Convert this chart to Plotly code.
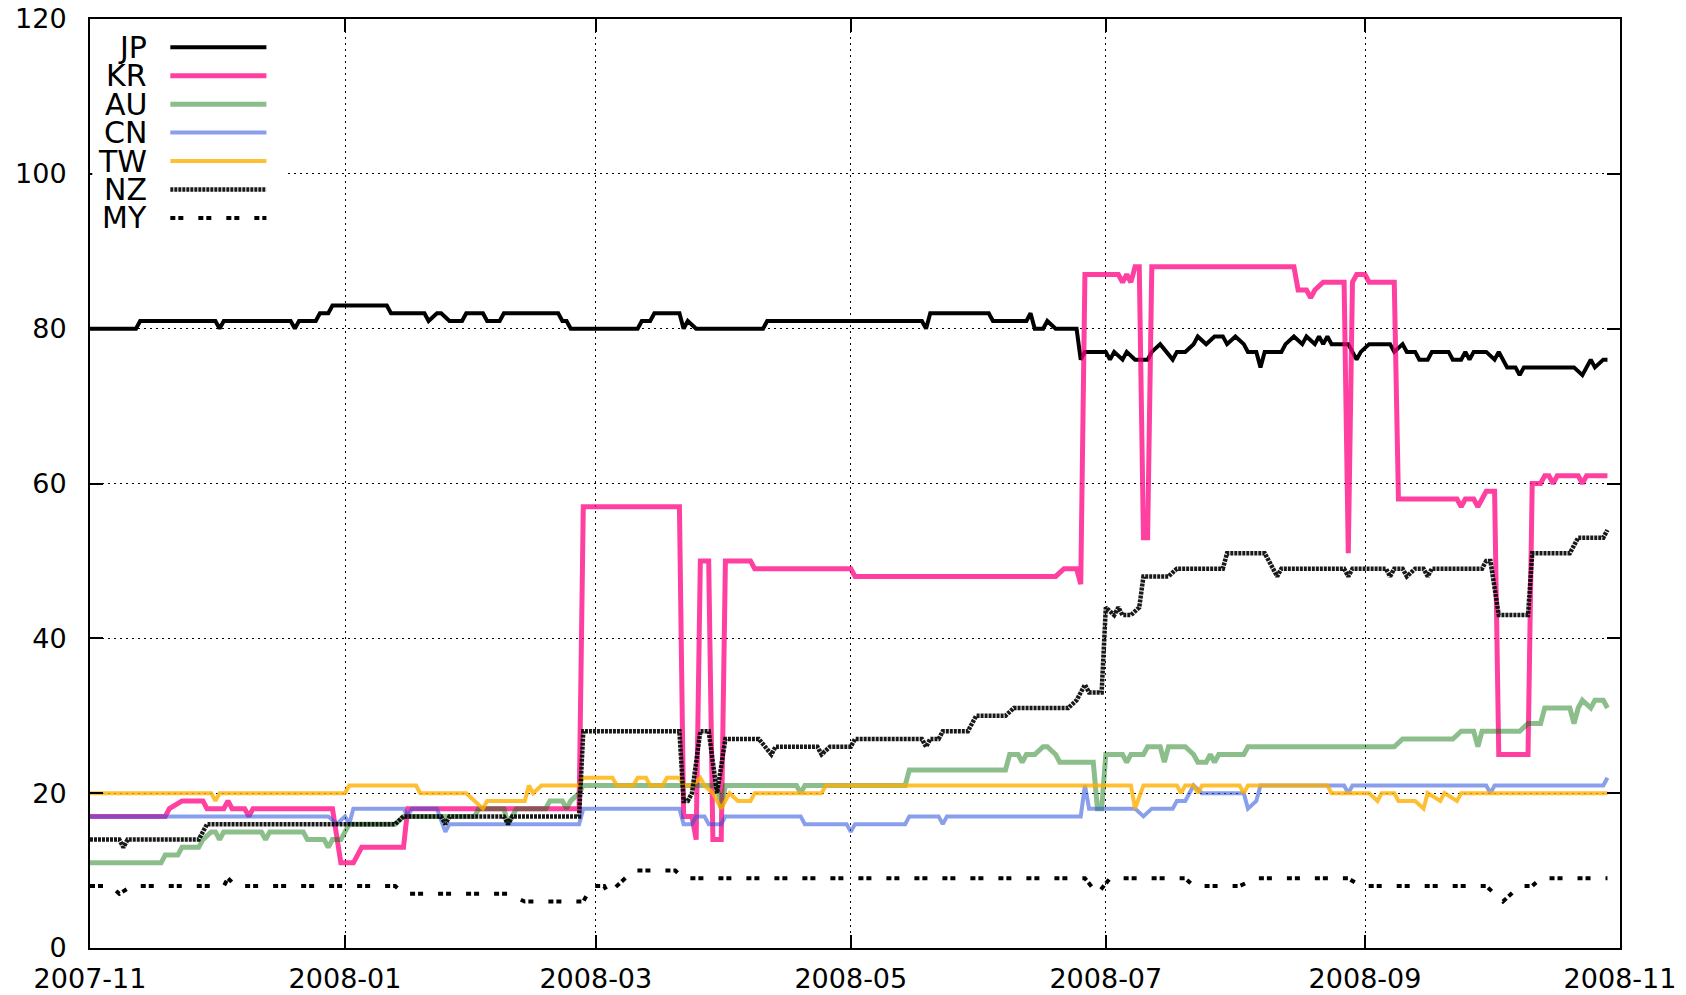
import pandas as pd
import plotly.graph_objects as go

START = "2007-11-01"
END = "2008-11-01"

# day offsets from START and values, per country
jp_days = [0, 11, 12, 30, 31, 32, 48, 49, 50, 54, 55, 57, 58, 71, 72, 80, 81, 83, 84, 86, 89, 90, 94, 95, 98, 99,
           112, 113, 114, 115, 131, 132, 134, 135, 141, 142, 143, 145, 161, 162, 199, 200, 201, 215, 216, 224, 225,
           226, 228, 229, 231, 236, 237, 238, 243, 244, 245, 247, 248, 250, 253, 254, 256, 259, 260, 262, 264, 265,
           267, 269, 271, 272, 274, 276, 277, 279, 280, 281, 285, 286, 288, 290, 291, 293, 294, 295, 296, 297, 301,
           303, 304, 306, 311, 312, 314, 315, 317, 318, 320, 321, 325, 326, 328, 329, 330, 331, 334, 336, 337, 339,
           341, 342, 343, 355, 357, 359, 360, 362, 363]
jp_vals = [80, 80, 81, 81, 80, 81, 81, 80, 81, 81, 82, 82, 83, 83, 82, 82, 81, 82, 82, 81, 81, 82, 82, 81, 81, 82,
           82, 81, 81, 80, 80, 81, 81, 82, 82, 80, 81, 80, 80, 81, 81, 80, 82, 82, 81, 81, 82,
           80, 80, 81, 80, 80, 76, 77, 77, 76, 77, 76, 77, 76, 76, 77, 78, 76, 77, 77, 78, 79,
           78, 79, 79, 78, 79, 78, 77, 77, 75, 77, 77, 78, 79, 78, 79, 78, 79, 78, 79, 78, 78,
           76, 77, 78, 78, 77, 78, 77, 77, 76, 76, 77, 77, 76, 76, 77, 76, 77, 77, 76, 77, 75,
           75, 74, 75, 75, 74, 76, 75, 76, 76]

kr_days = [0, 18, 19, 22, 27, 28, 32, 33, 34, 37, 38, 39, 58, 60, 63, 65, 75, 76, 117, 118, 141, 142, 144, 145, 146,
           148, 149, 151, 152, 158, 159, 182, 183, 231, 233, 236, 237, 238, 246, 247, 248, 249, 250, 251, 252, 253,
           254, 288, 289, 291, 292, 293, 295, 300, 301, 302, 303, 305, 306, 312, 313, 327, 328, 329, 331, 332, 334,
           336, 337, 344, 345, 347, 348, 349, 350, 351, 356, 357, 358, 363]
kr_vals = [17, 17, 18, 19, 19, 18, 18, 19, 18, 18, 17, 18, 18, 11, 11, 13, 13, 18, 18, 57, 57, 17, 17, 14, 50,
           50, 14, 14, 50, 50, 49, 49, 48, 48, 49, 49, 47, 87, 87, 86, 87, 86, 88, 88, 53, 53,
           88, 88, 85, 85, 84, 85, 86, 86, 51, 86, 87, 87, 86, 86, 58, 58, 57, 58, 58, 57, 59,
           59, 25, 25, 60, 60, 61, 61, 60, 61, 61, 60, 61, 61]

au_days = [0, 17, 18, 21, 22, 26, 27, 29, 30, 31, 32, 41, 42, 43, 51, 52, 56, 57, 58, 60, 62, 73, 75, 92, 93, 99,
           100, 102, 109, 110, 113, 114, 115, 117, 118, 150, 151, 152, 169, 170, 171, 195, 196, 219, 220, 222, 223,
           224, 226, 228, 229, 231, 232, 240, 241, 242, 243, 247, 248, 249, 252, 253, 256, 257, 258, 262, 264, 265,
           267, 268, 269, 270, 276, 277, 312, 314, 326, 328, 331, 332, 333, 342, 344, 347, 348, 354, 355, 356, 357,
           359, 360, 362, 363]
au_vals = [11, 11, 12, 12, 13, 13, 14, 15, 15, 14, 15, 15, 14, 15, 15, 14, 14, 13, 14, 14, 16, 16, 17, 17, 18, 18,
           16, 18, 18, 19, 19, 18, 19, 20, 21, 21, 18, 21, 21, 20, 21, 21, 23, 23, 25, 25, 24,
           25, 25, 26, 26, 25, 24, 24, 18, 18, 25, 25, 24, 25, 25, 26, 26, 24, 26, 26, 25, 24,
           24, 25, 24, 25, 25, 26, 26, 27, 27, 28, 28, 26, 28, 28, 29, 29, 31, 31, 29, 31, 32,
           31, 32, 32, 31]

cn_days = [0, 57, 59, 61, 62, 63, 75, 76, 77, 83, 85, 86, 117, 118, 141, 142, 144, 145, 147, 148, 151, 152, 170,
           171, 181, 182, 183, 195, 196, 203, 204, 205, 237, 238, 239, 250, 252, 254, 259, 260, 262, 264, 266, 276,
           277, 279, 280, 300, 301, 302, 334, 335, 336, 362, 363]
cn_vals = [17, 17, 16, 17, 16, 18, 18, 17, 18, 18, 15, 16, 16, 18, 18, 16, 16, 17, 17, 16, 16, 17, 17,
           16, 16, 15, 16, 16, 17, 17, 16, 17, 17, 21, 18, 18, 17, 18, 18, 19, 19, 21, 20, 20,
           18, 19, 21, 21, 20, 21, 21, 20, 21, 21, 22]

tw_days = [0, 29, 30, 31, 61, 62, 78, 79, 90, 92, 94, 95, 104, 105, 106, 108, 117, 118, 125, 126, 130, 131, 133,
           134, 137, 138, 141, 142, 144, 146, 147, 149, 151, 153, 155, 158, 159, 175, 176, 249, 250, 252, 260, 261,
           262, 264, 265, 266, 275, 276, 277, 296, 297, 306, 308, 309, 312, 313, 317, 319, 320, 323, 324, 327, 328,
           363]
tw_vals = [20, 20, 19, 20, 20, 21, 21, 20, 20, 19, 18, 19, 19, 21, 20, 21, 21, 22, 22, 21, 21, 22, 22,
           21, 21, 22, 22, 21, 21, 22, 21, 20, 18, 20, 19, 19, 20, 20, 21, 21, 18, 21, 21, 20,
           21, 21, 20, 21, 21, 20, 21, 21, 20, 20, 19, 20, 20, 19, 19, 18, 20, 19, 20, 19, 20,
           20]

nz_days = [0, 7, 8, 9, 26, 28, 73, 75, 84, 85, 86, 99, 100, 101, 117, 118, 141, 142, 143, 144, 146, 148, 150, 152,
           160, 163, 164, 174, 175, 177, 182, 183, 199, 200, 201, 203, 204, 210, 211, 212, 219, 221, 234, 236, 237,
           238, 239, 242, 243, 245, 246, 247, 249, 251, 252, 258, 260, 271, 272, 281, 284, 285, 300, 301, 302, 310,
           311, 312, 314, 315, 317, 319, 320, 321, 333, 334, 335, 337, 344, 345, 354, 355, 356, 362, 363]
nz_vals = [14, 14, 13, 14, 14, 16, 16, 17, 17, 16, 17, 17, 16, 17, 17, 28, 28, 19, 19, 20, 28, 28, 20, 27,
           27, 25, 26, 26, 25, 26, 26, 27, 27, 26, 27, 27, 28, 28, 29, 30, 30, 31, 31, 32, 33,
           34, 33, 33, 44, 43, 44, 43, 43, 44, 48, 48, 49, 49, 51, 51, 48, 49, 49, 48, 49, 49,
           48, 49, 49, 48, 49, 49, 48, 49, 49, 50, 50, 43, 43, 51, 51, 52, 53, 53, 54]

my_days = [0, 5, 7, 10, 32, 33, 35, 73, 75, 100, 104, 118, 120, 123, 124, 126, 128, 130, 140, 142, 238, 241, 244,
           262, 264, 275, 279, 301, 304, 334, 336, 338, 340, 342, 345, 347, 363]
my_vals = [8, 8, 7, 8, 8, 9, 8, 8, 7, 7, 6, 6, 8, 8, 7, 8, 9, 10, 10, 9, 9, 7, 9,
           9, 8, 8, 9, 9, 8, 8, 7, 6, 7, 8, 8, 9, 9]

names = ["JP", "KR", "AU", "CN", "TW", "NZ", "MY"]
styles = {
    "JP": dict(color="black", width=4),
    "KR": dict(color="rgba(255,0,128,0.75)", width=5),
    "AU": dict(color="rgba(0,110,0,0.45)", width=5),
    "CN": dict(color="rgba(40,80,220,0.55)", width=4),
    "TW": dict(color="rgba(255,175,0,0.8)", width=4),
    "NZ": dict(color="rgba(0,0,0,0.9)", width=4.5, dash="3px,1px"),
    "MY": dict(color="black", width=4, dash="5px,3px,5px,15px"),
}
data = {
    "JP": (jp_days, jp_vals), "KR": (kr_days, kr_vals), "AU": (au_days, au_vals),
    "CN": (cn_days, cn_vals), "TW": (tw_days, tw_vals), "NZ": (nz_days, nz_vals),
    "MY": (my_days, my_vals),
}

start = pd.Timestamp(START)
fig = go.Figure()
for name in names:
    days, vals = data[name]
    x = start + pd.to_timedelta(days, unit="D")
    fig.add_trace(go.Scatter(x=x, y=vals, mode="lines", name=name,
                             line=styles[name], showlegend=False))

# hand-made gnuplot style key: white box, right-aligned labels, line samples
fig.add_shape(type="rect", xref="paper", yref="paper", x0=0.0015, x1=0.1288, y0=0.768, y1=0.9975,
              fillcolor="white", line_width=0, layer="above")
for i, name in enumerate(names):
    yy = 0.9695 - i * 0.0306
    fig.add_annotation(xref="paper", yref="paper", x=0.0386, y=yy, text=name, showarrow=False,
                       xanchor="right", yanchor="middle",
                       font=dict(family="DejaVu Sans", size=30, color="black"))
    fig.add_shape(type="line", xref="paper", yref="paper", x0=0.0525, x1=0.1153, y0=yy, y1=yy,
                  line=styles[name], layer="above")

axis_style = dict(
    showline=True, linecolor="black", linewidth=2, mirror="ticks",
    ticks="inside", ticklen=13, tickwidth=2, tickcolor="black",
    showgrid=True, gridcolor="black", gridwidth=1, griddash="2px,4px",
    zeroline=False, automargin=False,
    tickfont=dict(family="DejaVu Sans", size=27, color="black"),
)
fig.update_xaxes(type="date", range=[START, END], tick0=START, dtick="M2", tickformat="%Y-%m",
                 ticklabelstandoff=6, **axis_style)
fig.update_yaxes(range=[0, 120], dtick=20, ticklabelstandoff=16, **axis_style)

fig.update_layout(
    width=1686, height=995,
    margin=dict(l=90, r=66, t=19, b=47, autoexpand=False),
    paper_bgcolor="white", plot_bgcolor="white",
    font=dict(family="DejaVu Sans", color="black"),
)

fig.write_html("out.html", config={"displayModeBar": False},
               post_script="document.body.style.margin = '0';")
